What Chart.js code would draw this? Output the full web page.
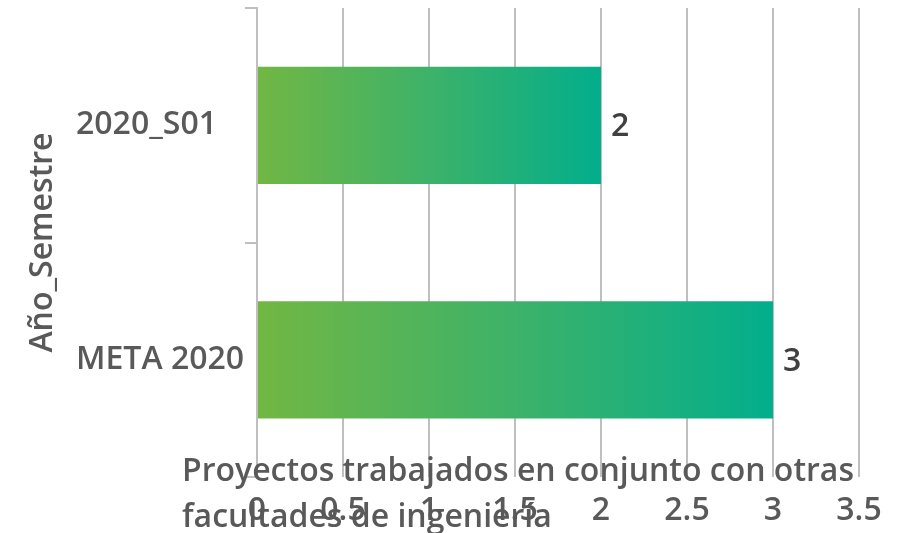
<!DOCTYPE html>
<html>
<head>
<meta charset="utf-8">
<script src="https://cdn.jsdelivr.net/npm/chart.js@4/dist/chart.umd.min.js"></script>
<style>
html,body{margin:0;padding:0;background:#fff;}
#wrap{width:908px;height:533px;position:relative;}
</style>
</head>
<body>
<div id="wrap"><canvas id="c" width="908" height="533"></canvas></div>
<script>
const categories = ["2020_S01", "META 2020"];
const values = [2, 3];
const xTicks = [0, 0.5, 1, 1.5, 2, 2.5, 3, 3.5];
const xTitleLines = ["Proyectos trabajados en conjunto con otras", "facultades de ingeniería"];
const yTitle = "Año_Semestre";

const FONT = "'Open Sans', 'Noto Sans', sans-serif";
const FSIZE = 32;
const LABEL_COLOR = "#595959";
const GRID_COLOR = "#bfbfbf";

const valueLabels = {
  id: "valueLabels",
  afterDatasetsDraw(chart) {
    const ctx = chart.ctx;
    const meta = chart.getDatasetMeta(0);
    ctx.save();
    ctx.font = "600 " + FSIZE + "px " + FONT;
    ctx.fillStyle = "#404040";
    ctx.textAlign = "left";
    ctx.textBaseline = "middle";
    meta.data.forEach((el, i) => {
      ctx.fillText(String(values[i]), el.x + 10, el.y + 2);
    });
    ctx.restore();
  }
};

const xTitlePlugin = {
  id: "xTitlePlugin",
  afterDraw(chart) {
    const ctx = chart.ctx;
    const area = chart.chartArea;
    ctx.save();
    ctx.font = "600 " + FSIZE + "px " + FONT;
    ctx.fillStyle = LABEL_COLOR;
    ctx.textAlign = "left";
    ctx.textBaseline = "alphabetic";
    const x0 = area.left - 75;
    ctx.fillText(xTitleLines[0], x0, area.bottom + 4);
    ctx.fillText(xTitleLines[1], x0, area.bottom + 50);
    ctx.restore();
  }
};

new Chart(document.getElementById("c"), {
  type: "bar",
  data: {
    labels: categories,
    datasets: [{
      data: values,
      backgroundColor: (c) => {
        const chart = c.chart;
        if (!chart.chartArea || !chart.scales.x) return "#3bb16a";
        const xs = chart.scales.x;
        const x0 = xs.getPixelForValue(0);
        const x1 = xs.getPixelForValue(c.raw);
        const g = chart.ctx.createLinearGradient(x0, 0, x1, 0);
        g.addColorStop(0, "#72b743");
        g.addColorStop(0.5, "#3db269");
        g.addColorStop(1, "#02ae8c");
        return g;
      },
      borderWidth: 0,
      categoryPercentage: 0.5,
      barPercentage: 1.0
    }]
  },
  options: {
    indexAxis: "y",
    responsive: false,
    animation: false,
    devicePixelRatio: 1,
    layout: { padding: { left: 76, right: 49, top: 8, bottom: 0 } },
    plugins: {
      legend: { display: false },
      tooltip: { enabled: false },
      title: { display: false }
    },
    scales: {
      x: {
        type: "linear",
        min: 0,
        max: 3.5,
        afterBuildTicks: (s) => { s.ticks = xTicks.map(v => ({ value: v })); },
        afterFit: (s) => { s.height = 56; s.paddingLeft = 0; s.paddingRight = 0; },
        ticks: {
          padding: 15,
          color: LABEL_COLOR,
          font: { family: FONT, size: FSIZE, weight: "600" },
          callback: (v) => String(v)
        },
        grid: { color: GRID_COLOR, lineWidth: 2, drawTicks: false },
        border: { display: false }
      },
      y: {
        type: "category",
        afterFit: (s) => { s.width = 181; s.paddingTop = 0; s.paddingBottom = 0; },
        ticks: {
          crossAlign: "far",
          color: LABEL_COLOR,
          font: { family: FONT, size: FSIZE, weight: "600" }
        },
        grid: {
          offset: true,
          drawOnChartArea: false,
          drawTicks: true,
          tickLength: 12,
          color: GRID_COLOR,
          lineWidth: 2
        },
        border: { display: true, color: GRID_COLOR, width: 2 },
        title: {
          display: true,
          text: yTitle,
          color: LABEL_COLOR,
          font: { family: FONT, size: FSIZE, weight: "600" },
          padding: { top: -52, bottom: 0 }
        }
      }
    }
  },
  plugins: [valueLabels, xTitlePlugin]
});
</script>
</body>
</html>
